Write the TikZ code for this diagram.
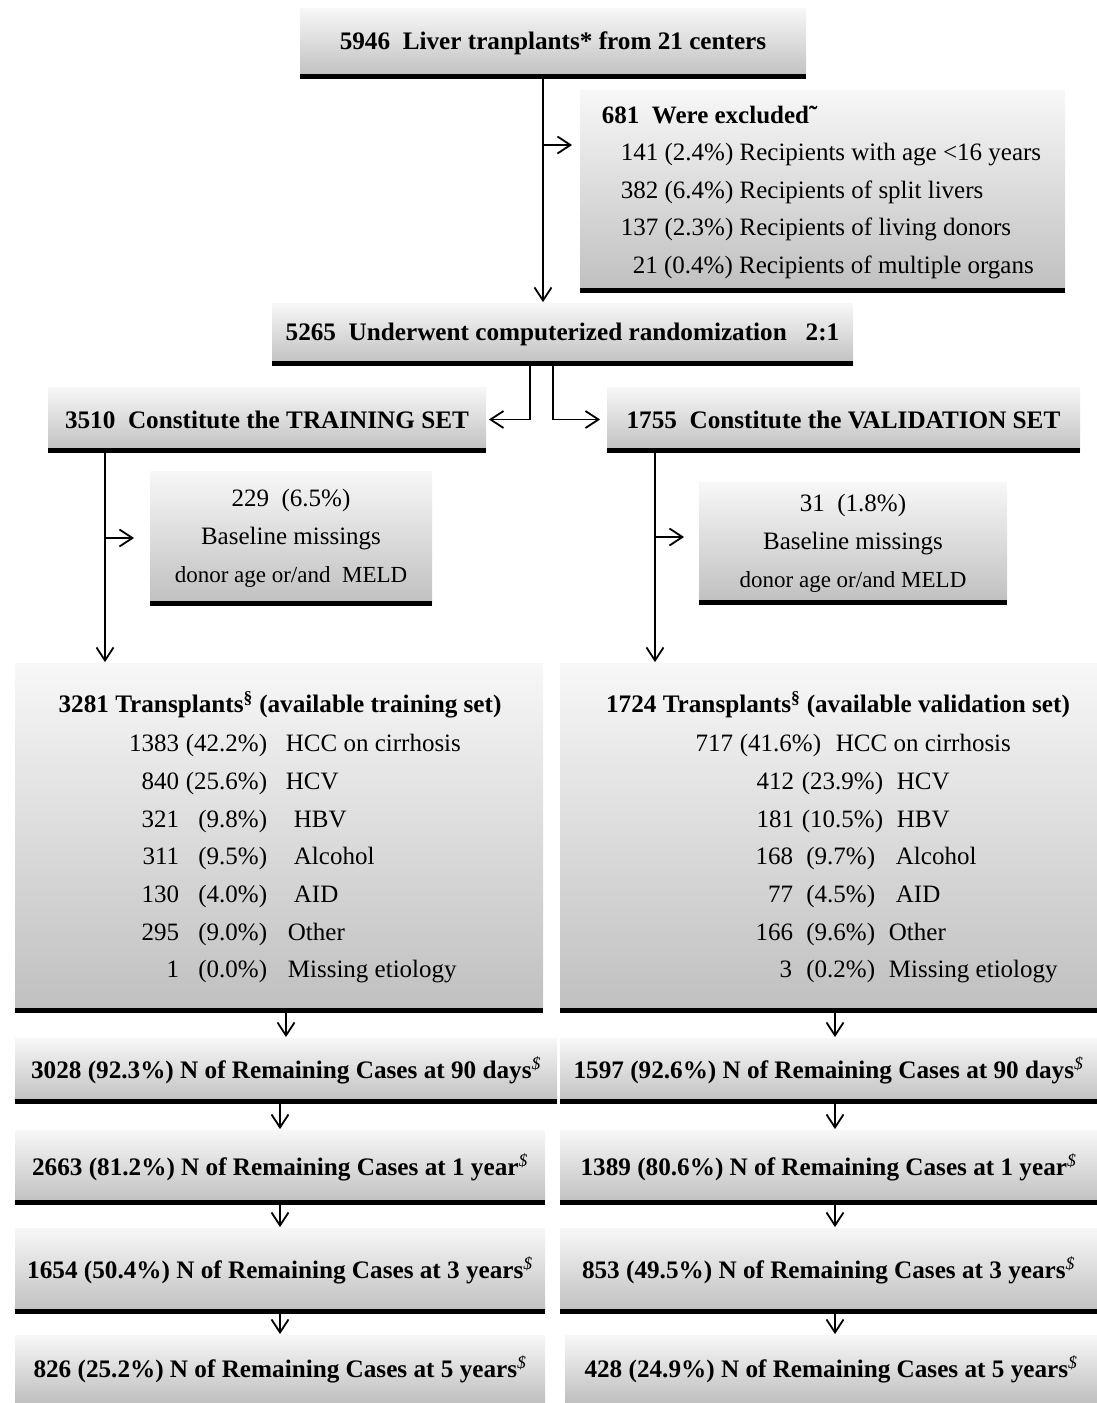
\documentclass[tikz,border=0pt]{standalone}
\usepackage{fontspec}
\setmainfont{Liberation Serif}
\usetikzlibrary{arrows.meta}
\newcommand{\dol}{\textsuperscript{\normalfont\textit{\$}}}

\begin{document}
\begin{tikzpicture}[x=1pt,y=-1pt,line width=1.8pt,
    >={Straight Barb[length=13pt,width=17pt]},
    plainbox/.style={rectangle,inner sep=0pt,top color=gray!6,bottom color=gray!50,
        font=\fontsize{25}{38}\selectfont},
    gbox/.style={plainbox,path picture={\draw[line width=8pt]
        (path picture bounding box.south west)--(path picture bounding box.south east);}},
    hd/.style={font=\fontsize{25.2}{30}\selectfont\bfseries},
    txt/.style={inner sep=0pt,font=\fontsize{25}{37.5}\selectfont}]
    \useasboundingbox (0,0) rectangle (1097,1403);

    \node[gbox,hd,minimum width=506pt,minimum height=70pt] (top) at (553,43) {5946\ \ Liver tranplants* from 21 centers};
    \node[gbox,minimum width=485pt,minimum height=202pt] (excl) at (822.5,191) {};
    \node[txt,align=left,anchor=west] (exclt) at (601,192)
        {\textbf{681\ \ Were excluded˜}\\
         \hspace*{19pt}141 (2.4\%) Recipients with age <16 years\\
         \hspace*{19pt}382 (6.4\%) Recipients of split livers\\
         \hspace*{19pt}137 (2.3\%) Recipients of living donors\\
         \hspace*{31pt}21 (0.4\%) Recipients of multiple organs};
    \node[gbox,hd,minimum width=581pt,minimum height=62pt] (rand) at (562.5,334) {5265\ \ Underwent computerized randomization\ \ \ 2:1};
    \node[gbox,hd,minimum width=438pt,minimum height=65pt] (train) at (267,419.5) {3510\ \ Constitute the TRAINING SET};
    \node[gbox,hd,minimum width=473pt,minimum height=65pt] (valid) at (843.5,419.5) {1755\ \ Constitute the VALIDATION SET};

    \node[gbox,minimum width=282pt,minimum height=134pt,align=center] (missL) at (291,538)
        {229\ \ (6.5\%)\\ Baseline missings\\ {\fontsize{23}{38}\selectfont donor age or/and\ \ MELD}};
    \node[gbox,minimum width=308pt,minimum height=122pt,align=center] (missR) at (853,543)
        {31\ \ (1.8\%)\\ Baseline missings\\ {\fontsize{23}{38}\selectfont donor age or/and MELD}};

    \node[gbox,minimum width=528pt,minimum height=349pt] (availL) at (279,837.5) {};
    \node[gbox,minimum width=537pt,minimum height=349pt] (availR) at (828.5,837.5) {};
    \node[txt,hd] (availLt) at (280,705) {3281 Transplants\textsuperscript{§} (available training set)};
    \node[txt,hd] (availRt) at (838,705) {1724 Transplants\textsuperscript{§} (available validation set)};
    \foreach \n/\p/\l/\a/\b/\c [count=\i] in {1383/42.2/HCC on cirrhosis/180/268/285,
        840/25.6/HCV/180/268/285, 321/9.8/HBV/180/268/293, 311/9.5/Alcohol/180/268/293,
        130/4.0/AID/180/268/293, 295/9.0/Other/180/268/287, 1/0.0/Missing etiology/180/268/287}{
        \node[txt,anchor=base east] (ln\i) at (\a,714+37.7*\i) {\n};
        \node[txt,anchor=base east] (lp\i) at (\b,714+37.7*\i) {(\p\%)};
        \node[txt,anchor=base west] (ll\i) at (\c,714+37.7*\i) {\l};
    }
    \foreach \n/\p/\l/\a/\b/\c [count=\i] in {717/41.6/HCC on cirrhosis/734/822/835,
        412/23.9/HCV/795/884/896, 181/10.5/HBV/795/884/896, 168/9.7/Alcohol/794/876/895,
        77/4.5/AID/794/876/895, 166/9.6/Other/794/876/888, 3/0.2/Missing etiology/793/876/888}{
        \node[txt,anchor=base east] (rn\i) at (\a,714+37.7*\i) {\n};
        \node[txt,anchor=base east] (rp\i) at (\b,714+37.7*\i) {(\p\%)};
        \node[txt,anchor=base west] (rl\i) at (\c,714+37.7*\i) {\l};
    }

    \node[gbox,hd,minimum width=542pt,minimum height=65pt] (d90L) at (286,1070.5) {3028 (92.3\%) N of Remaining Cases at 90 days\dol};
    \node[gbox,hd,minimum width=537pt,minimum height=65pt] (d90R) at (828.5,1070.5) {1597 (92.6\%) N of Remaining Cases at 90 days\dol};
    \node[gbox,hd,minimum width=530pt,minimum height=74pt] (y1L) at (280,1167) {2663 (81.2\%) N of Remaining Cases at 1 year\dol};
    \node[gbox,hd,minimum width=537pt,minimum height=74pt] (y1R) at (828.5,1167) {1389 (80.6\%) N of Remaining Cases at 1 year\dol};
    \node[gbox,hd,minimum width=530pt,minimum height=85pt] (y3L) at (280,1270.5) {1654 (50.4\%) N of Remaining Cases at 3 years\dol};
    \node[gbox,hd,minimum width=537pt,minimum height=85pt] (y3R) at (828.5,1270.5) {853 (49.5\%) N of Remaining Cases at 3 years\dol};
    \node[plainbox,hd,minimum width=530pt,minimum height=68pt] (y5L) at (280,1369) {826 (25.2\%) N of Remaining Cases at 5 years\dol};
    \node[plainbox,hd,minimum width=532pt,minimum height=68pt] (y5R) at (831,1369) {428 (24.9\%) N of Remaining Cases at 5 years\dol};

    \coordinate (ex) at ([yshift=46pt]excl.west);
    \draw[->] ([xshift=-10pt]top.south) -- ([xshift=-10pt]top.south |- rand.north);
    \draw[->] ([xshift=-10pt]top.south |- ex) -- ([xshift=-7pt]ex);
    \draw[->] ([xshift=-32.5pt]rand.south) |- ([xshift=2pt]train.east);
    \draw[->] ([xshift=-9.5pt]rand.south) |- ([xshift=-6pt]valid.west);

    \draw[->] ([xshift=-162pt]train.south) -- ([xshift=-162pt]train.south |- availL.north);
    \draw[->] ([xshift=-162pt]train.south |- missL.west) -- ([xshift=-15pt]missL.west);
    \coordinate (mr) at ([yshift=6pt]missR.west);
    \draw[->] ([xshift=-188.5pt]valid.south) -- ([xshift=-188.5pt]valid.south |- availR.north);
    \draw[->] ([xshift=-188.5pt]valid.south |- mr) -- ([xshift=-14pt]mr);

    \foreach \a/\b in {availL/d90L, d90L/y1L, y1L/y3L, y3L/y5L}
        \draw[->] (\b.north |- \a.south) -- (\b.north);
    \foreach \a/\b in {availR/d90R, d90R/y1R, y1R/y3R, y3R/y5R}
        \draw[->] ([xshift=6.5pt]availR.south |- \a.south) -- ([xshift=6.5pt]availR.south |- \b.north);
\end{tikzpicture}
\end{document}
